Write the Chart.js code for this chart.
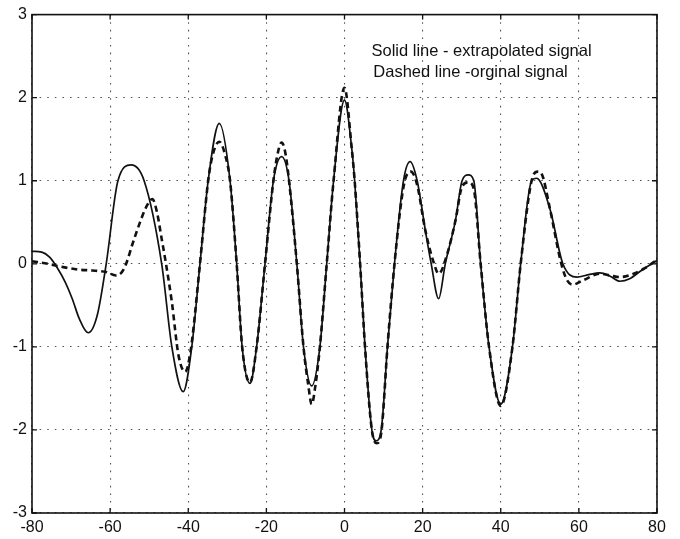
<!DOCTYPE html>
<html><head><meta charset="utf-8">
<script src="https://cdn.jsdelivr.net/npm/chart.js@4"></script>
<style>html,body{margin:0;padding:0;background:#fff;}canvas{display:block;}</style>
</head><body>
<canvas id="c" width="680" height="539"></canvas>
<script>
// ---- data ----
const solidX = [-80,-77.5,-75.5,-73.5,-71.5,-69.7,-67.9,-65.6,-63.3,-61,-58,-54.6,-51.3,-46.8,-44.2,-41.3,-39.1,-37.0,-34.9,-32.05,-29.3,-27.6,-26.2,-24.2,-22.5,-20.35,-18.2,-16.1,-14.2,-12.2,-10.5,-8.4,-6.3,-4.55,-2.8,0,1.83,2.6,4.0,5.25,7.0,8.1,9.4,11.0,12.8,15.1,16.8,18.6,20.7,22.2,24.1,25.8,28.4,30.1,31.7,33.1,34.85,37.0,40,43.0,45.1,47.9,49.2,52.6,55.9,59.5,62.5,65.4,68,70.5,73,76,80];
const solidY = [0.15,0.14,0.08,-0.05,-0.22,-0.42,-0.66,-0.83,-0.62,0,1.0,1.19,1.0,0,-1.0,-1.54,-1.0,0,1.0,1.69,1.0,0,-1.0,-1.44,-1.0,0,1.0,1.29,1.0,0,-1.0,-1.47,-1.0,0,1.0,1.97,1.40,1.0,0,-1.0,-2.0,-2.13,-2.0,-1.0,0,1.0,1.23,1.0,0.40,0,-0.42,0,0.52,1.0,1.07,1.0,0,-1.0,-1.69,-1.0,0,1.0,1.03,0.66,0,-0.16,-0.13,-0.11,-0.15,-0.21,-0.18,-0.08,0.04];
const dashX = [-80,-76,-72,-68,-64.6,-61,-58.5,-57,-55.9,-54.4,-52.5,-50.8,-49.2,-48,-46.8,-45.7,-44.2,-42.5,-40.8,-39.4,-37.0,-34.9,-33.8,-32.05,-30.5,-29.3,-27.6,-26.2,-24.2,-22.5,-20.35,-18.2,-17.0,-16.1,-15.2,-14.2,-12.2,-10.5,-9.3,-8.4,-7.4,-6.3,-4.55,-2.8,0,1.83,2.6,4.0,5.25,7.0,8.3,9.5,11.0,12.8,15.2,17.0,18.6,20.7,22.8,24.1,26.3,28.4,30.1,31.8,33.1,34.85,37.0,40,43.0,45.1,47.9,49.5,50.5,52.6,55.5,57,58.5,61,65.4,68,70.5,74,77,80];
const dashY = [0.03,0.0,-0.04,-0.07,-0.08,-0.1,-0.14,-0.1,0,0.22,0.48,0.68,0.78,0.62,0.3,0,-0.46,-1.1,-1.3,-1.05,0,1.0,1.3,1.47,1.3,1.0,0,-1.0,-1.43,-1.0,0,1.0,1.35,1.46,1.35,1.0,0,-1.0,-1.45,-1.69,-1.45,-1.0,0,1.0,2.12,1.40,1.0,0,-1.0,-2.0,-2.16,-2.0,-1.0,0,0.95,1.11,0.95,0.40,0.02,-0.12,0.12,0.52,0.93,0.98,0.9,0,-1.0,-1.71,-1.0,0,1.0,1.11,1.08,0.66,0,-0.2,-0.25,-0.2,-0.12,-0.14,-0.16,-0.12,-0.05,0.05];
const xTicks = [-80,-60,-40,-20,0,20,40,60,80];
const yTicks = [-3,-2,-1,0,1,2,3];
const noteLines = ["Solid line - extrapolated signal", "Dashed line -orginal signal"];

const toPts = (xs, ys) => xs.map((x, i) => ({x, y: ys[i]}));
const FONT = "'Liberation Sans', Arial, Helvetica, sans-serif";

const framePlugin = {
  id: 'frame',
  afterDraw(chart) {
    const {ctx, chartArea: a, scales} = chart;
    ctx.save();
    ctx.strokeStyle = '#111';
    ctx.lineWidth = 1.6;
    ctx.setLineDash([]);
    ctx.strokeRect(a.left, a.top, a.right - a.left, a.bottom - a.top);
    ctx.lineWidth = 1.3;
    const tl = 5;
    ctx.beginPath();
    xTicks.forEach(v => {
      const px = scales.x.getPixelForValue(v);
      ctx.moveTo(px, a.bottom); ctx.lineTo(px, a.bottom - tl);
      ctx.moveTo(px, a.top); ctx.lineTo(px, a.top + tl);
    });
    yTicks.forEach(v => {
      const py = scales.y.getPixelForValue(v);
      ctx.moveTo(a.left, py); ctx.lineTo(a.left + tl, py);
      ctx.moveTo(a.right, py); ctx.lineTo(a.right - tl, py);
    });
    ctx.stroke();
    // annotation text
    ctx.fillStyle = '#111';
    ctx.font = '16.5px ' + FONT;
    ctx.textBaseline = 'alphabetic';
    ctx.textAlign = 'left';
    ctx.fillText(noteLines[0], 371.5, 55.7);
    ctx.fillText(noteLines[1], 373.3, 76.7);
    ctx.restore();
  }
};

new Chart(document.getElementById('c'), {
  type: 'line',
  data: {
    datasets: [
      {
        label: 'extrapolated',
        data: toPts(solidX, solidY),
        borderColor: '#111',
        borderWidth: 1.7,
        pointRadius: 0,
        fill: false,
        cubicInterpolationMode: 'monotone'
      },
      {
        label: 'original',
        data: toPts(dashX, dashY),
        borderColor: '#111',
        borderWidth: 2.6,
        borderDash: [6, 4],
        pointRadius: 0,
        fill: false,
        cubicInterpolationMode: 'monotone'
      }
    ]
  },
  options: {
    responsive: false,
    animation: false,
    devicePixelRatio: 1,
    layout: {padding: {top: 14, right: 23, left: 0, bottom: 0}},
    plugins: {legend: {display: false}, tooltip: {enabled: false}},
    scales: {
      x: {
        type: 'linear', min: -80, max: 80,
        afterBuildTicks: s => { s.ticks = xTicks.map(v => ({value: v})); },
        afterFit: s => { s.height = 26; },
        ticks: {color: '#111', font: {family: FONT, size: 16}, padding: 5, maxRotation: 0, autoSkip: false},
        grid: {color: '#555', lineWidth: 1.1, drawTicks: false},
        border: {display: false, dash: [1.6, 6]}
      },
      y: {
        type: 'linear', min: -3, max: 3,
        afterBuildTicks: s => { s.ticks = yTicks.map(v => ({value: v})); },
        afterFit: s => { s.width = 32; },
        ticks: {color: '#111', font: {family: FONT, size: 16}, padding: 5, autoSkip: false},
        grid: {color: '#555', lineWidth: 1.1, drawTicks: false},
        border: {display: false, dash: [1.6, 6]}
      }
    }
  },
  plugins: [framePlugin]
});
</script>
</body></html>
